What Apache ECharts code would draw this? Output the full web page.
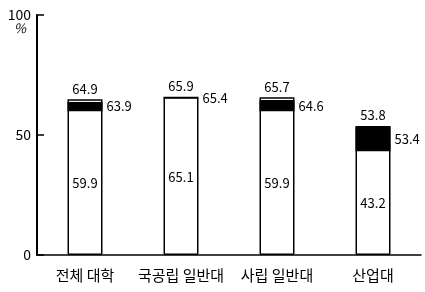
<!DOCTYPE html>
<html>
<head>
<meta charset="utf-8">
<script src="https://cdn.jsdelivr.net/npm/echarts@6/dist/echarts.min.js"></script>
<style>
  html, body { margin: 0; padding: 0; background: #fff; }
  #chart { width: 425px; height: 292px; }
</style>
</head>
<body>
<div id="chart"></div>
<script>
// 범주와 값
var categories = ['전체 대학', '국공립 일반대', '사립 일반대', '산업대'];
var lowVals = [59.9, 65.1, 59.9, 43.2];   // 흰 아래 부분
var midVals = [63.9, 65.4, 64.6, 53.4];   // 검은 부분 윗값
var topVals = [64.9, 65.9, 65.7, 53.8];   // 전체 막대 높이
var yTicks = [0, 50, 100];

var font = '"Noto Sans CJK KR", "Noto Sans", sans-serif';
var blackPart = midVals.map(function (v, i) { return +(v - lowVals[i]).toFixed(1); });
var topPart = topVals.map(function (v, i) { return +(v - midVals[i]).toFixed(1); });

var myChart = echarts.init(document.getElementById('chart'));

var option = {
    animation: false,
    grid: { left: 37, right: 4, top: 15, bottom: 37 },
    xAxis: {
        type: 'category',
        data: categories,
        axisLine: { lineStyle: { color: '#000', width: 1.5 } },
        axisTick: { inside: true, length: 3, lineStyle: { color: '#000', width: 1.5 } },
        axisLabel: { color: '#000', fontSize: 15, margin: 13, fontFamily: font, interval: 0 }
    },
    yAxis: {
        type: 'value',
        min: 0,
        max: 100,
        interval: 50,
        splitLine: { show: false },
        axisLine: { show: true, lineStyle: { color: '#000', width: 2 } },
        axisTick: { show: true, inside: true, length: 7, lineStyle: { color: '#000', width: 1.5 } },
        axisLabel: {
            color: '#000', fontSize: 14, margin: 6, fontFamily: font,
            formatter: function (v) { return yTicks.indexOf(v) >= 0 ? String(v) : ''; }
        }
    },
    graphic: [{
        type: 'text', left: 14, top: 22,
        style: { text: '%', fill: '#000', font: 'italic 13px ' + font }
    }],
    series: [
        {
            type: 'bar', stack: 'a', barWidth: 35,
            data: lowVals,
            itemStyle: { color: '#fff' },
            label: {
                show: true, position: 'inside', color: '#000', fontSize: 13, fontFamily: font,
                formatter: function (p) { return lowVals[p.dataIndex].toFixed(1); }
            }
        },
        {
            type: 'bar', stack: 'a', barWidth: 35,
            data: blackPart,
            itemStyle: { color: '#000' },
            label: {
                show: true, position: 'right', distance: 4, color: '#000', fontSize: 13, fontFamily: font,
                formatter: function (p) { return midVals[p.dataIndex].toFixed(1); }
            }
        },
        {
            type: 'bar', stack: 'a', barWidth: 35,
            data: topPart,
            itemStyle: { color: '#fff' },
            label: {
                show: true, position: 'top', distance: 4, color: '#000', fontSize: 13, fontFamily: font,
                formatter: function (p) { return topVals[p.dataIndex].toFixed(1); }
            }
        },
        {
            // 막대 테두리
            type: 'bar', barWidth: 35, barGap: '-100%', z: 5,
            data: topVals,
            itemStyle: { color: 'rgba(0,0,0,0)', borderColor: '#000', borderWidth: 1.5 },
            label: { show: false },
            silent: true
        }
    ]
};

myChart.setOption(option);
</script>
</body>
</html>
